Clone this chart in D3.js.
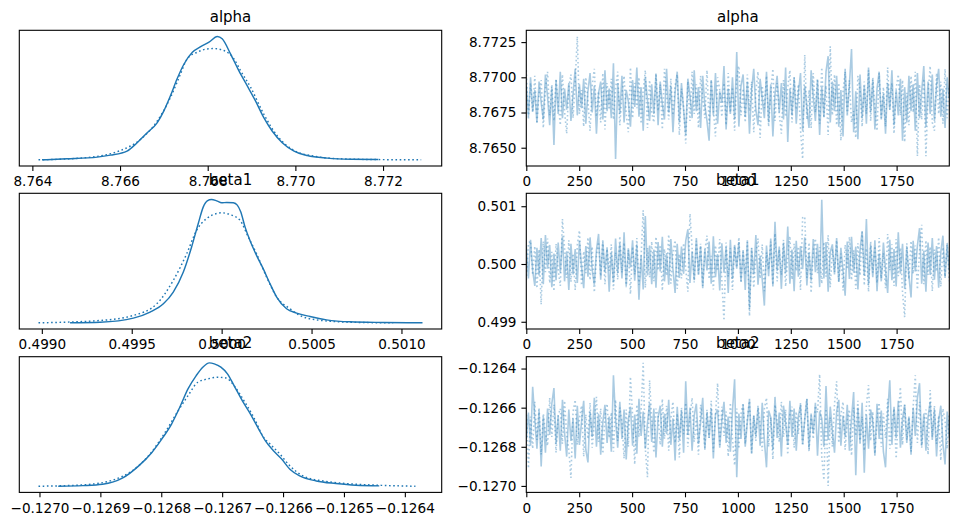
<!DOCTYPE html>
<html><head><meta charset="utf-8">
<script src="https://cdn.jsdelivr.net/npm/d3@7"></script>
<style>
body{margin:0;background:#fff}
text{font-family:"DejaVu Sans",sans-serif}
</style></head><body>
<svg id="c" width="958" height="526"></svg>
<script>
// ---------------- DATA ----------------
const paramNames = ["alpha", "beta1", "beta2"];

// KDE curves (x = parameter value, y = relative density, peak = 1)
const alphaKdeX0 = [8.76422,8.76479,8.76548,8.76578,8.76616,8.76639,8.76662,8.76685,8.76700,8.76715,8.76730,8.76746,8.76765,8.76784,8.76803,8.76822,8.76833,8.76852,8.76871,8.76890,8.76909,8.76928,8.76947,8.76970,8.76997,8.77027,8.77073,8.77126,8.77189];
const alphaKdeY0 = [0,.008,.022,.038,.071,.139,.220,.302,.397,.519,.655,.777,.872,.918,.954,1,.981,.859,.723,.601,.478,.342,.234,.139,.071,.035,.014,.005,.003];
const alphaKdeX1 = [8.76414,8.76517,8.76601,8.76647,8.76685,8.76715,8.76738,8.76753,8.76776,8.76799,8.76814,8.76837,8.76860,8.76875,8.76898,8.76928,8.76959,8.76997,8.77042,8.77088,8.77164,8.77287];
const alphaKdeY1 = [0,.016,.076,.166,.315,.505,.696,.818,.872,.899,.902,.886,.818,.723,.587,.370,.193,.076,.030,.011,.003,0];

const beta1KdeX0 = [0.499157,0.499324,0.499509,0.499602,0.499676,0.499731,0.499787,0.499833,0.499870,0.499898,0.499920,0.499944,0.499972,0.500000,0.500028,0.500065,0.500087,0.500106,0.500130,0.500157,0.500194,0.500231,0.500269,0.500306,0.500361,0.500417,0.500491,0.500583,0.500713,0.500898,0.501117];
const beta1KdeY0 = [0,.005,.038,.087,.154,.249,.412,.615,.805,.940,.989,1,.989,.973,.976,.973,.954,.900,.778,.669,.547,.439,.317,.209,.114,.079,.051,.024,.008,.003,0];
const beta1KdeX1 = [0.4989815,0.499324,0.499509,0.499639,0.499731,0.499806,0.499861,0.499917,0.499972,0.500000,0.500046,0.500102,0.500148,0.500194,0.500250,0.500306,0.500380,0.500435,0.500528,0.500713,0.500954];
const beta1KdeY1 = [0,.019,.060,.154,.344,.561,.751,.846,.886,.892,.878,.832,.696,.561,.371,.209,.114,.060,.024,.005,0];

const beta2KdeX0 = [-0.1269692,-0.1269288,-0.1268964,-0.1268640,-0.1268370,-0.1268154,-0.1267992,-0.1267831,-0.1267696,-0.1267561,-0.1267426,-0.1267318,-0.1267210,-0.1267129,-0.1267021,-0.1266913,-0.1266805,-0.1266670,-0.1266535,-0.1266400,-0.1266292,-0.1266158,-0.1266023,-0.1265888,-0.1265726,-0.1265456,-0.1265132,-0.1264808,-0.1264420];
const beta2KdeY0 = [0,.005,.016,.065,.165,.274,.382,.504,.640,.789,.897,.965,1,.992,.965,.911,.816,.694,.585,.463,.369,.287,.220,.138,.084,.043,.022,.008,.003];
const beta2KdeX1 = [-0.1270016,-0.1269288,-0.1268802,-0.1268478,-0.1268208,-0.1267938,-0.1267723,-0.1267561,-0.1267399,-0.1267237,-0.1267075,-0.1266940,-0.1266805,-0.1266643,-0.1266481,-0.1266319,-0.1266211,-0.1266050,-0.1265888,-0.1265672,-0.1265348,-0.1264970,-0.1264431,-0.1263826];
const beta2KdeY1 = [0,.011,.049,.125,.247,.436,.612,.734,.843,.870,.883,.878,.816,.694,.558,.396,.341,.260,.165,.084,.043,.022,.008,0];

// Traces: 200 thinned draws per chain, stored as deviations from a base value in given units
const nDraws = 2000;
const alphaBase = 8.768, alphaUnit = 1e-4;
const alphaChain0 = [14,-8,20,-4,11,-12,17,2,-10,22,6,-14,13,-28,18,-6,24,-9,12,-3,
16,-11,8,26,-7,15,-2,19,-13,10,23,-5,14,-20,9,17,-10,25,-4,12,
-9,30,-38,16,-6,21,-12,11,3,-15,18,-1,27,-8,13,-18,20,4,-11,15,
-6,22,-14,17,1,-10,26,-5,14,-19,9,24,-12,16,-3,-21,19,7,-9,25,
-4,13,-16,21,0,-11,-25,18,-7,23,-13,10,2,28,-17,12,-6,20,-10,38,
-15,14,22,-8,17,-20,11,26,-3,-14,19,5,-9,24,-12,15,-22,8,21,-5,
16,-10,27,-26,12,-7,20,-13,9,23,-18,14,-2,-16,25,6,-11,18,-21,13,
-8,24,35,-12,17,-4,21,-15,11,-22,26,-6,15,40,-19,10,-24,22,-9,14,
-13,27,-5,18,-17,12,24,-10,8,-20,16,-3,25,-14,11,-7,19,-25,13,-12,
21,-4,15,-18,23,-9,10,28,-15,17,-6,22,-11,14,26,-8,12,-16,20,5];
const alphaChain1 = [25,-10,16,-5,21,-13,9,18,-16,12,24,-7,15,-11,19,2,-14,22,-4,-20,
13,22,-9,17,49,-6,11,-15,20,3,-18,14,26,-8,10,-12,23,-17,16,-3,
19,-10,12,24,-14,7,21,-6,-19,27,-9,16,-2,20,-13,11,25,-16,18,-5,
-12,23,-4,15,-17,26,8,-10,19,-7,14,22,-21,12,-1,-27,17,-11,24,-6,
15,-16,21,5,-9,25,-13,18,-3,-22,20,11,-8,16,-14,23,-5,13,-18,19,
28,-7,12,-12,22,-4,17,-19,10,24,-23,14,-2,21,-15,9,26,-11,16,-6,
-20,18,-8,13,25,-12,20,-3,15,-17,-38,36,-10,11,-16,23,-5,19,-13,27,
-9,14,-21,42,-7,22,-14,16,-25,10,24,-8,18,-12,-4,-23,21,11,-15,17,
-6,25,-11,20,-1,-18,23,-9,13,-15,27,-3,16,-20,12,22,-7,18,-26,9,
-14,21,-5,24,-36,15,-10,19,-36,8,28,-12,-18,23,-6,17,-13,26,-9,14];

const beta1Base = 0.5, beta1Unit = 1e-5;
const beta1Chain0 = [30,-25,42,-12,-38,28,-20,45,-35,50,-8,33,-40,18,-28,37,-15,48,-30,22,
-45,35,-18,26,-33,40,-5,-42,31,-22,46,-10,-36,24,52,-27,38,-14,29,-48,
20,-32,44,-16,36,-25,55,-38,27,-6,41,-29,34,-62,15,-44,83,-20,32,-35,
25,-41,38,-13,47,-30,19,-36,43,-9,-50,35,-24,30,-17,40,60,-33,22,-28,
45,-19,31,-42,26,-11,39,-34,48,-23,17,-46,36,-15,29,-50,42,-26,33,-8,
38,-30,24,-45,41,-78,27,-18,50,-36,14,-27,-72,32,-21,44,-39,73,-12,30,
-43,36,-16,65,-34,25,-47,40,-22,31,-9,46,-37,19,-29,43,-14,35,-40,111,
-25,38,-48,21,34,-18,45,-31,28,-12,-55,39,-26,47,-15,30,-44,24,57,-20,
78,-36,33,-23,41,-47,18,-30,37,-10,-50,42,-28,26,-39,55,-17,35,-43,29,
-21,-58,40,-13,32,62,-34,23,-48,37,-19,45,-27,31,-41,20,49,-24,34,-11];
const beta1Chain1 = [-28,36,40,-19,31,-42,25,-70,39,-14,44,-33,21,-47,35,-9,-38,78,27,-24,
41,-31,18,-45,33,58,-37,22,-16,46,-28,30,-49,14,38,-21,43,-35,26,-12,
34,-44,20,-27,48,-15,37,-40,24,-52,30,-18,45,-36,12,93,-41,28,-23,39,
-30,47,-11,33,-46,26,-20,51,-34,19,41,-43,17,-25,36,-8,-48,87,29,-32,
40,-17,35,-38,23,49,-26,14,-44,32,-12,43,-29,-98,37,-22,27,-45,31,-6,
46,-33,21,-18,38,-90,28,-41,16,44,-25,34,-47,20,-10,39,-36,53,-30,25,
-19,42,-39,13,48,-27,35,-12,30,-45,80,82,-24,37,-50,22,44,-16,29,-34,
38,-22,50,-40,26,-14,41,-31,18,-46,33,-9,47,-28,24,-43,36,-20,55,-37,
27,-48,39,-15,31,-33,45,-25,19,-42,52,-11,34,-38,43,-21,28,-49,-92,36,
-26,40,-17,32,-44,23,68,-35,41,-19,30,-47,25,-13,46,-39,29,-22,37,-30];

const beta2Base = -0.1267, beta2Unit = 1e-6;
const beta2Chain0 = [-60,75,-95,207,40,-110,85,-201,55,-130,95,-40,120,200,-85,60,-120,140,-30,-150,
90,-70,45,-160,110,-90,30,135,-115,-180,80,-50,150,-100,70,-140,25,115,-80,55,
-125,265,40,-105,130,-60,90,-165,35,105,-95,65,-135,145,-45,80,-110,20,125,-75,
95,-155,50,110,-100,70,-35,140,-90,45,-170,105,-65,85,-130,235,-40,100,-120,60,
120,-85,25,150,-115,75,-55,95,-160,65,90,-105,35,130,-80,55,-125,85,245,-255,
70,-60,115,-100,30,140,-135,60,-45,100,-95,125,-70,-205,85,50,-115,155,-55,75,
-150,110,20,-90,135,-50,95,-120,55,115,-85,40,145,-110,70,-30,125,-145,80,45,
-100,210,-65,105,-20,-130,80,140,-95,60,-50,115,-120,45,180,-245,100,-75,125,-232,
65,-110,90,30,-145,120,-60,85,-125,-205,70,240,-90,105,-55,135,-105,40,115,-80,
55,-140,100,-45,150,225,-95,70,-120,50,130,-65,90,-150,35,110,-85,-190,80,-50];
const beta2Chain1 = [85,-210,55,-110,130,-65,100,-140,70,-25,-95,150,-50,115,-130,60,95,-85,135,-40,
-115,-259,80,140,-90,45,110,-150,65,-60,125,-105,20,155,-75,95,-135,50,120,-55,
75,-125,140,-70,100,25,-160,90,-100,258,60,-190,115,-50,80,329,-110,-255,240,40,
-130,95,60,-90,145,-60,110,-120,45,130,-80,70,-155,100,-35,125,-100,55,150,-75,
50,-140,115,30,-105,90,-55,135,-125,65,225,-90,105,-45,80,-150,125,-60,-195,95,
-110,70,125,-85,40,145,-130,60,-70,110,15,-120,95,150,-100,50,-165,115,30,-75,
130,-50,90,-140,65,105,-105,80,-35,125,-95,45,145,-125,60,-60,110,75,270,-150,
-270,95,-300,50,-100,120,235,-80,65,130,-115,35,90,-145,100,-45,135,-90,55,-120,
110,215,-70,80,-135,40,125,-100,70,-55,145,-110,20,95,-160,60,205,-90,115,-65,
50,-125,105,265,-80,130,-105,30,90,-140,190,-50,110,-85,60,-170,95,35,-110,70];

// Tick labels
const alphaKdeTicks = [8.764, 8.766, 8.768, 8.770, 8.772];
const beta1KdeTicks = [0.4990, 0.4995, 0.5000, 0.5005, 0.5010];
const beta2KdeTicks = [-0.1270, -0.1269, -0.1268, -0.1267, -0.1266, -0.1265, -0.1264];
const alphaTraceTicks = [8.7650, 8.7675, 8.7700, 8.7725];
const beta1TraceTicks = [0.499, 0.500, 0.501];
const beta2TraceTicks = [-0.1270, -0.1268, -0.1266, -0.1264];
const drawTicks = [0, 250, 500, 750, 1000, 1250, 1500, 1750];

// ---------------- BUILD ----------------
const toVals = (arr, base, unit) => arr.map(v => base + v * unit);
const params = [
  {name: paramNames[0], kde: [[alphaKdeX0, alphaKdeY0], [alphaKdeX1, alphaKdeY1]],
   chains: [toVals(alphaChain0, alphaBase, alphaUnit), toVals(alphaChain1, alphaBase, alphaUnit)],
   kdeTicks: alphaKdeTicks, kdeFmt: ".3f", traceTicks: alphaTraceTicks, traceFmt: ".4f"},
  {name: paramNames[1], kde: [[beta1KdeX0, beta1KdeY0], [beta1KdeX1, beta1KdeY1]],
   chains: [toVals(beta1Chain0, beta1Base, beta1Unit), toVals(beta1Chain1, beta1Base, beta1Unit)],
   kdeTicks: beta1KdeTicks, kdeFmt: ".4f", traceTicks: beta1TraceTicks, traceFmt: ".3f"},
  {name: paramNames[2], kde: [[beta2KdeX0, beta2KdeY0], [beta2KdeX1, beta2KdeY1]],
   chains: [toVals(beta2Chain0, beta2Base, beta2Unit), toVals(beta2Chain1, beta2Base, beta2Unit)],
   kdeTicks: beta2KdeTicks, kdeFmt: ".4f", traceTicks: beta2TraceTicks, traceFmt: ".4f"}
];

const svg = d3.select("#c");
const C0 = "#1f77b4";
const rowTops = [30.3, 193.3, 356.7];
const axH = 135.7;
const leftX = [19.3, 441.7];
const rightX = [526.3, 949.3];
const tickLen = 4.9;
const tickFont = "13.6px";
const titleFont = "15px";
const dashes = ["none", "1.6,2.6"];

let clipId = 0;
function clip(x0, y0, w, h) {
  const id = "clip" + (clipId++);
  svg.append("clipPath").attr("id", id).append("rect")
    .attr("x", x0).attr("y", y0).attr("width", w).attr("height", h);
  return "url(#" + id + ")";
}

function frame(g, x0, y0, w, h) {
  g.append("rect").attr("x", x0).attr("y", y0).attr("width", w).attr("height", h)
    .attr("fill", "none").attr("stroke", "#000").attr("stroke-width", 1.1);
}

function styleAxis(ax) {
  ax.select(".domain").remove();
  ax.selectAll(".tick line").attr("stroke", "#000").attr("stroke-width", 1.1);
  ax.selectAll(".tick text").attr("fill", "#000").style("font-size", tickFont)
    .style("font-family", "DejaVu Sans");
}

params.forEach((p, r) => {
  const top = rowTops[r], bottom = top + axH;
  const all = p.kde.flatMap(k => k[0]).concat(p.chains.flat());
  const [mn, mx] = d3.extent(all);
  const pad = (mx - mn) * 0.05;
  const valDomain = [mn - pad, mx + pad];

  // ----- KDE panel -----
  const g = svg.append("g");
  const x = d3.scaleLinear().domain(valDomain).range(leftX);
  const dmax = d3.max(p.kde.flatMap(k => k[1]));
  const y = d3.scaleLinear().domain([-0.05 * dmax, 1.05 * dmax]).range([bottom, top]);
  const cp = clip(leftX[0], top, leftX[1] - leftX[0], axH);
  const line = d3.line().x(d => x(d[0])).y(d => y(d[1])).curve(d3.curveMonotoneX);
  p.kde.forEach((k, ci) => {
    const pts = k[0].map((v, i) => [v, k[1][i]]);
    g.append("path").attr("d", line(pts)).attr("fill", "none")
      .attr("stroke", C0).attr("stroke-width", 1.45)
      .attr("stroke-dasharray", dashes[ci]).attr("clip-path", cp);
  });
  frame(g, leftX[0], top, leftX[1] - leftX[0], axH);
  const xa = g.append("g").attr("transform", `translate(0,${bottom})`)
    .call(d3.axisBottom(x).tickValues(p.kdeTicks).tickFormat(d3.format(p.kdeFmt))
      .tickSize(tickLen).tickPadding(5.6));
  styleAxis(xa);
  g.append("text").attr("x", (leftX[0] + leftX[1]) / 2).attr("y", top - 8.5)
    .attr("text-anchor", "middle").style("font-size", titleFont).attr("fill", "#000").text(p.name);

  // ----- Trace panel -----
  const g2 = svg.append("g");
  const xt = d3.scaleLinear().domain([0, nDraws - 1]).range(rightX);
  const yt = d3.scaleLinear().domain(valDomain).range([bottom, top]);
  const cp2 = clip(rightX[0], top, rightX[1] - rightX[0], axH);
  p.chains.forEach((vals, ci) => {
    const n = vals.length;
    const tl = d3.line().x((d, i) => xt(i * (nDraws - 1) / (n - 1))).y(d => yt(d));
    g2.append("path").attr("d", tl(vals)).attr("fill", "none")
      .attr("stroke", C0).attr("stroke-opacity", 0.38).attr("stroke-width", 1.6)
      .attr("stroke-dasharray", dashes[ci]).attr("clip-path", cp2);
  });
  frame(g2, rightX[0], top, rightX[1] - rightX[0], axH);
  const xa2 = g2.append("g").attr("transform", `translate(0,${bottom})`)
    .call(d3.axisBottom(xt).tickValues(drawTicks).tickFormat(d3.format("d"))
      .tickSize(tickLen).tickPadding(5.6));
  styleAxis(xa2);
  const ya2 = g2.append("g").attr("transform", `translate(${rightX[0]},0)`)
    .call(d3.axisLeft(yt).tickValues(p.traceTicks).tickFormat(d3.format(p.traceFmt))
      .tickSize(tickLen).tickPadding(4.9));
  styleAxis(ya2);
  g2.append("text").attr("x", (rightX[0] + rightX[1]) / 2).attr("y", top - 8.5)
    .attr("text-anchor", "middle").style("font-size", titleFont).attr("fill", "#000").text(p.name);
});
</script>
</body></html>
